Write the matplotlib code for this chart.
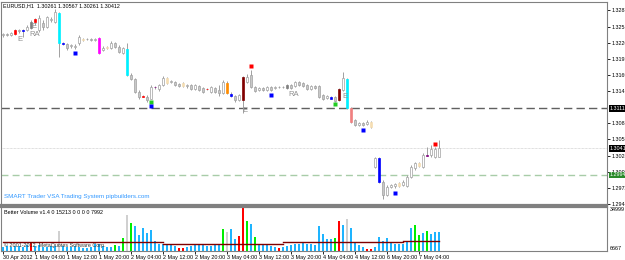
import matplotlib
matplotlib.use("Agg")
import numpy as np
import matplotlib.pyplot as plt
from matplotlib.transforms import blended_transform_factory

plt.rcParams['font.family'] = ['Liberation Sans Narrow', 'DejaVu Sans Condensed', 'Liberation Sans', 'DejaVu Sans']

# EURUSD H1 bars, 30 Apr 20:00 .. 7 May 09:00
opens = [
    1.32398, 1.32415, 1.32398, 1.32415, 1.32485, 1.32485, 1.32485, 1.32520, 1.32625, 1.32485,
    1.32608, 1.32538, 1.32660, 1.32625, 1.32783, 1.32258, 1.32240, 1.32205, 1.32188, 1.32258,
    1.32310, 1.32328, 1.32328, 1.32310, 1.32345, 1.32135, 1.32170, 1.32170, 1.32258, 1.32188,
    1.32083, 1.32153, 1.31698, 1.31628, 1.31400, 1.31330, 1.31313, 1.31278, 1.31488, 1.31453,
    1.31523, 1.31645, 1.31575, 1.31575, 1.31540, 1.31558, 1.31505, 1.31523, 1.31453, 1.31505,
    1.31470, 1.31453, 1.31400, 1.31470, 1.31435, 1.31383, 1.31383, 1.31365, 1.31330, 1.31260,
    1.31260, 1.31575, 1.31698, 1.31488, 1.31435, 1.31470, 1.31435, 1.31488, 1.31470, 1.31488,
    1.31479, 1.31470, 1.31523, 1.31505, 1.31575, 1.31558, 1.31523, 1.31453, 1.31505, 1.31505,
    1.31348, 1.31295, 1.31313, 1.31313, 1.31260, 1.31435, 1.31628, 1.31120, 1.30910, 1.30823,
    1.30858, 1.30840, 1.30875, 1.30088, 1.30245, 1.29825, 1.29598, 1.29738, 1.29755, 1.29808,
    1.29773, 1.29755, 1.29913, 1.30070, 1.30105, 1.30088, 1.30298, 1.30298, 1.30263, 1.30261,
]
highs = [
    1.32433, 1.32433, 1.32450, 1.32503, 1.32503, 1.32503, 1.32573, 1.32660, 1.32695, 1.32748,
    1.32660, 1.32730, 1.32713, 1.32853, 1.32800, 1.32275, 1.32258, 1.32240, 1.32240, 1.32398,
    1.32345, 1.32345, 1.32345, 1.32345, 1.32363, 1.32205, 1.32205, 1.32293, 1.32275, 1.32223,
    1.32188, 1.32258, 1.31733, 1.31645, 1.31435, 1.31348, 1.31348, 1.31523, 1.31505, 1.31540,
    1.31680, 1.31663, 1.31610, 1.31593, 1.31558, 1.31575, 1.31540, 1.31540, 1.31540, 1.31523,
    1.31488, 1.31470, 1.31505, 1.31488, 1.31523, 1.31610, 1.31593, 1.31400, 1.31348, 1.31365,
    1.31680, 1.31715, 1.31785, 1.31505, 1.31488, 1.31488, 1.31505, 1.31505, 1.31505, 1.31505,
    1.31505, 1.31540, 1.31540, 1.31593, 1.31593, 1.31575, 1.31540, 1.31523, 1.31523, 1.31523,
    1.31365, 1.31348, 1.31330, 1.31330, 1.31470, 1.31750, 1.31645, 1.31138, 1.30928, 1.30875,
    1.30875, 1.30910, 1.30893, 1.30263, 1.30263, 1.29860, 1.29773, 1.29790, 1.29808, 1.29825,
    1.29860, 1.29948, 1.30123, 1.30175, 1.30175, 1.30333, 1.30438, 1.30473, 1.30438, 1.30567,
]
lows = [
    1.32363, 1.32380, 1.32380, 1.32398, 1.32433, 1.32363, 1.32468, 1.32503, 1.32573, 1.32450,
    1.32485, 1.32520, 1.32625, 1.32608, 1.32013, 1.32223, 1.32135, 1.32170, 1.32153, 1.32223,
    1.32293, 1.32310, 1.32293, 1.32293, 1.32065, 1.32118, 1.32153, 1.32153, 1.32170, 1.32083,
    1.32065, 1.31680, 1.31610, 1.31383, 1.31278, 1.31313, 1.31225, 1.31269, 1.31453, 1.31418,
    1.31505, 1.31540, 1.31558, 1.31505, 1.31488, 1.31488, 1.31470, 1.31435, 1.31435, 1.31418,
    1.31383, 1.31435, 1.31383, 1.31383, 1.31330, 1.31365, 1.31365, 1.31313, 1.31225, 1.31243,
    1.31033, 1.31558, 1.31470, 1.31400, 1.31418, 1.31418, 1.31418, 1.31418, 1.31453, 1.31470,
    1.31470, 1.31453, 1.31453, 1.31488, 1.31505, 1.31488, 1.31435, 1.31435, 1.31453, 1.31295,
    1.31260, 1.31278, 1.31278, 1.31225, 1.31243, 1.31418, 1.31103, 1.30858, 1.30805, 1.30805,
    1.30805, 1.30823, 1.30770, 1.30070, 1.29808, 1.29528, 1.29580, 1.29720, 1.29720, 1.29738,
    1.29755, 1.29738, 1.29895, 1.30035, 1.30088, 1.30070, 1.30280, 1.30263, 1.30245, 1.30261,
]
closes = [
    1.32415, 1.32398, 1.32433, 1.32485, 1.32468, 1.32476, 1.32538, 1.32625, 1.32678, 1.32695,
    1.32538, 1.32713, 1.32678, 1.32800, 1.32258, 1.32240, 1.32170, 1.32223, 1.32205, 1.32363,
    1.32328, 1.32319, 1.32310, 1.32328, 1.32083, 1.32170, 1.32188, 1.32258, 1.32188, 1.32100,
    1.32170, 1.31698, 1.31628, 1.31400, 1.31313, 1.31321, 1.31260, 1.31488, 1.31479, 1.31523,
    1.31645, 1.31558, 1.31593, 1.31523, 1.31505, 1.31505, 1.31523, 1.31453, 1.31523, 1.31435,
    1.31400, 1.31444, 1.31488, 1.31400, 1.31383, 1.31575, 1.31558, 1.31330, 1.31260, 1.31348,
    1.31663, 1.31663, 1.31488, 1.31418, 1.31470, 1.31435, 1.31488, 1.31435, 1.31488, 1.31479,
    1.31488, 1.31523, 1.31470, 1.31575, 1.31523, 1.31505, 1.31453, 1.31505, 1.31470, 1.31313,
    1.31278, 1.31330, 1.31286, 1.31243, 1.31453, 1.31645, 1.31120, 1.30875, 1.30823, 1.30858,
    1.30823, 1.30875, 1.30788, 1.30245, 1.29825, 1.29598, 1.29738, 1.29773, 1.29790, 1.29755,
    1.29825, 1.29913, 1.30088, 1.30158, 1.30158, 1.30298, 1.30289, 1.30403, 1.30403, 1.30412,
]

# VSA bar class: n normal, r red, b blue, g grey, c cyan, w wheat, m magenta,
# p purple, o orange, d dark red, k pink
bar_class = [
    'n', 'n', 'n', 'r', 'n', 'b', 'n', 'g', 'r', 'n',
    'n', 'n', 'n', 'n', 'c', 'b', 'n', 'n', 'n', 'n',
    'w', 'n', 'n', 'n', 'm', 'n', 'w', 'n', 'n', 'n',
    'n', 'c', 'n', 'n', 'n', 'r', 'n', 'n', 'p', 'n',
    'n', 'w', 'n', 'n', 'n', 'w', 'n', 'n', 'n', 'n',
    'n', 'r', 'n', 'n', 'n', 'n', 'o', 'b', 'n', 'n',
    'd', 'n', 'n', 'n', 'n', 'n', 'n', 'n', 'n', 'n',
    'n', 'g', 'n', 'n', 'n', 'n', 'n', 'n', 'n', 'n',
    'n', 'n', 'b', 'n', 'd', 'n', 'c', 'k', 'n', 'n',
    'n', 'n', 'w', 'n', 'b', 'n', 'n', 'n', 'n', 'w',
    'n', 'n', 'n', 'n', 'w', 'n', 'p', 'n', 'n', 'n',
]

# signal squares: bar, price, kind
marker_bars = [18, 37, 37, 62, 67, 83, 90, 98, 108]
marker_prices = [1.32074, 1.31225, 1.31155, 1.31855, 1.31348, 1.31190, 1.30735, 1.29633, 1.30490]
marker_kinds = ['b', 'l', 'b', 'r', 'b', 'l', 'b', 'b', 'r']

# text signals
sig_bars = [3.5, 7.2, 6.5, 59.8, 71.3, 84.8]
sig_prices = [1.32319, 1.32546, 1.32406, 1.31085, 1.31365, 1.31313]
sig_text = ['E', 'E', 'RA', 'E', 'RA', 'E']

# Better Volume
volumes = [
    2440, 3260, 2440, 3260, 3260, 2440, 4070, 5700, 3260, 4070,
    2440, 2440, 3260, 3260, 15470, 3260, 2440, 2440, 3260, 2440,
    1630, 1630, 2440, 4880, 4880, 3260, 2440, 2440, 4070, 3260,
    9770, 28490, 21980, 19540, 12210, 17910, 13840, 16280, 7330, 4880,
    4880, 4070, 4070, 3260, 1630, 1630, 2440, 3260, 4070, 4880,
    4070, 3260, 3260, 4070, 4880, 17090, 14650, 17090, 8950, 11400,
    34999, 23610, 21160, 10580, 4070, 4070, 4070, 3260, 2440, 1630,
    2440, 3260, 4070, 4880, 4880, 5700, 4880, 4880, 4070, 19540,
    13020, 8950, 8950, 9770, 23610, 20350, 25230, 17910, 6510, 4070,
    2440, 810, 810, 2440, 10580, 7330, 9770, 6510, 4880, 4880,
    4880, 7330, 17910, 20350, 12210, 13840, 15470, 13020, 14650, 15213,
]
vol_class = [
    'b', 'b', 'b', 'b', 'b', 'b', 'b', 'r', 'b', 'b',
    'b', 'b', 'b', 'b', 'w', 'b', 'b', 'b', 'b', 'b',
    'b', 'b', 'b', 'b', 'b', 'b', 'b', 'b', 'g', 'b',
    'g', 'w', 'g', 'b', 'b', 'b', 'b', 'b', 'b', 'b',
    'b', 'b', 'b', 'b', 'r', 'r', 'b', 'b', 'b', 'b',
    'b', 'b', 'b', 'b', 'b', 'g', 'w', 'b', 'b', 'r',
    'r', 'g', 'b', 'g', 'b', 'b', 'b', 'b', 'b', 'r',
    'b', 'b', 'b', 'b', 'b', 'b', 'b', 'b', 'b', 'b',
    'b', 'b', 'b', 'g', 'r', 'b', 'w', 'b', 'b', 'b',
    'b', 'r', 'r', 'b', 'b', 'b', 'b', 'b', 'b', 'b',
    'b', 'b', 'b', 'g', 'g', 'b', 'g', 'b', 'b', 'b',
]
# volume average, (first bar, last bar, value)
vol_avg = [(0, 40, 6600), (40, 70, 5600), (70, 100, 7200), (100, 109, 7992)]

price_ticks = [1.32835, 1.32540, 1.32260, 1.31980, 1.31695, 1.31415,
               1.30850, 1.30570, 1.30285, 1.30005, 1.29725, 1.29440]
level_high = 1.31112
level_low = 1.29948
time_ticks = [0, 8, 16, 24, 32, 40, 48, 56, 64, 72, 80, 88, 96, 104]
time_labels = ['30 Apr 2012', '1 May 04:00', '1 May 12:00', '1 May 20:00',
               '2 May 04:00', '2 May 12:00', '2 May 20:00', '3 May 04:00',
               '3 May 12:00', '3 May 20:00', '4 May 04:00', '4 May 12:00',
               '6 May 20:00', '7 May 04:00']

bar_col = {'r': '#ff0000', 'b': '#0000ff', 'g': '#808080', 'c': '#00f0ff',
           'w': '#f5deb3', 'm': '#ff00ff', 'p': '#800080', 'o': '#ff8c00',
           'd': '#800000', 'k': '#f08080'}
mark_col = {'b': '#0000ff', 'r': '#ff0000', 'l': '#22cc22'}
vcol = {'b': '#1eb4ff', 'r': '#ff0000', 'g': '#00ee00', 'w': '#d0d0d0'}
frame = '#808080'
fs = 3.9

fig = plt.figure(figsize=(6.25, 2.6), dpi=100)
ax = fig.add_axes([1 / 625, 55 / 260, 606 / 625, 203 / 260])
axv = fig.add_axes([1 / 625, 9.5 / 260, 606 / 625, 43.5 / 260], sharex=ax)

idx = np.arange(len(opens))
o = np.array(opens)
c = np.array(closes)
faces, edges = [], []
for i, k in enumerate(bar_class):
    if k == 'n':
        faces.append('white' if c[i] >= o[i] else '#c8c8c8')
        edges.append('#a0a0a0')
    else:
        faces.append(bar_col[k])
        edges.append(bar_col[k])

# levels
ax.axhline(level_high, color='#606060', lw=1, dashes=(6, 3), zorder=1)
ax.axhline(level_low, color='#a8cca8', lw=1, dashes=(5, 3), zorder=1)
ax.axhline(closes[-1], color='#c0c0c0', lw=0.5, ls=(0, (1, 1)), zorder=1)

ax.vlines(idx, lows, highs, color='#a0a0a0', lw=0.7, zorder=2)
ax.bar(idx, np.maximum(np.abs(c - o), 0.00002), bottom=np.minimum(o, c), width=0.72,
       color=faces, edgecolor=edges, linewidth=0.5, zorder=3)
for b, p, k in zip(marker_bars, marker_prices, marker_kinds):
    ax.plot(b, p, 's', ms=2.3, color=mark_col[k], mec='none', zorder=4)
for b, p, t in zip(sig_bars, sig_prices, sig_text):
    ax.text(b, p, t, color='#909090', fontsize=5.5, ha='left', va='center', zorder=5)

ax.set_xlim(-0.5, 151)
ax.set_ylim(1.29423, 1.32975)
ax.yaxis.tick_right()
ax.set_yticks(price_ticks)
ax.set_yticklabels(['%.5f' % p for p in price_ticks])
ax.tick_params(axis='y', labelsize=fs, length=2, width=0.6, color='black', pad=1.5)
ax.tick_params(axis='x', bottom=False, labelbottom=False)
for s in ax.spines.values():
    s.set_color(frame)
    s.set_linewidth(0.8)
ax.spines['bottom'].set_linewidth(1.6)

tr = blended_transform_factory(ax.transAxes, ax.transData)
for lvl, bg in [(level_high, 'black'), (closes[-1], 'black'), (level_low, '#2a8a2a')]:
    ax.text(1.004, lvl, '%.5f' % lvl, transform=tr, fontsize=fs, color='white',
            va='center', ha='left',
            bbox=dict(boxstyle='square,pad=0.12', fc=bg, ec='none'))

ax.text(0.004, 0.993, 'EURUSD,H1  %.5f %.5f %.5f %.5f' % (opens[-1], highs[-1], lows[-1], closes[-1]),
        transform=ax.transAxes, fontsize=fs, va='top', ha='left')
ax.text(0.005, 0.03, 'SMART Trader VSA Trading System pipbuilders.com',
        transform=ax.transAxes, fontsize=4.5, color='#3399ff', va='bottom', ha='left')

# volume panel
axv.bar(idx, volumes, width=0.72, color=[vcol[k] for k in vol_class], linewidth=0)
for a, b, v in vol_avg:
    axv.plot([a, b], [v, v], color='#800000', lw=1.0)
axv.set_ylim(0, 34999)
axv.yaxis.tick_right()
axv.set_yticks([34999, 0])
axv.set_yticklabels(['34999', '6667'])
axv.tick_params(axis='y', labelsize=fs, length=0, pad=2)
ylab = axv.get_yticklabels()
ylab[0].set_va('top')
ylab[1].set_va('bottom')
axv.set_xticks(time_ticks)
axv.set_xticklabels(time_labels)
axv.tick_params(axis='x', labelsize=fs, length=2, width=0.6, pad=1.5)
for lab in axv.get_xticklabels():
    lab.set_ha('left')
for s in axv.spines.values():
    s.set_color(frame)
    s.set_linewidth(0.8)
axv.spines['top'].set_linewidth(1.6)
axv.text(0.005, 0.93, 'Better Volume v1.4 0 %d 0 0 0 0 %d' % (volumes[-1], vol_avg[-1][2]),
         transform=axv.transAxes, fontsize=fs, va='top', ha='left')
axv.text(0.005, 0.06, '© 2001-2012, MetaQuotes Software Corp.',
         transform=axv.transAxes, fontsize=fs, color='#333333', va='bottom', ha='left')

fig.savefig('out.png', dpi=100)
